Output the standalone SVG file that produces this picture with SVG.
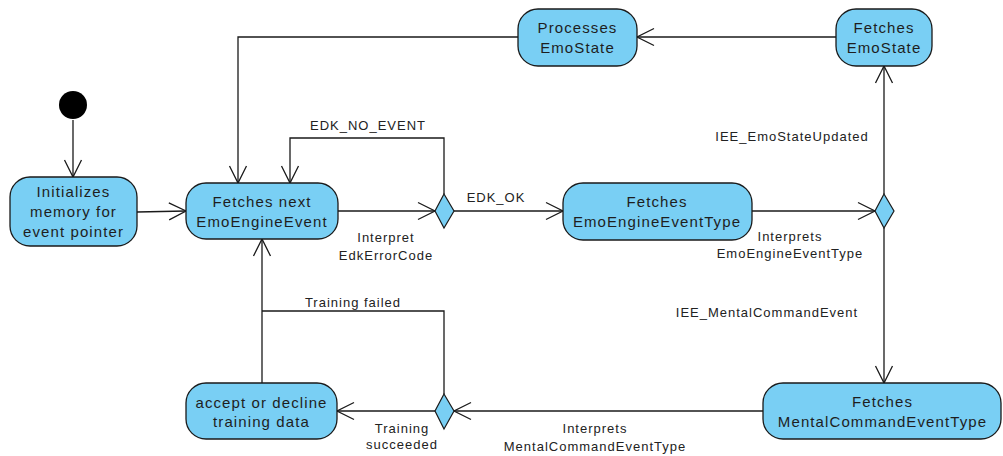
<svg xmlns="http://www.w3.org/2000/svg" width="1003" height="456" viewBox="0 0 1003 456">
<style>
.node rect{fill:#79cff4;stroke:#1a1a1a;stroke-width:1.3}
.dia{fill:#79cff4;stroke:#1a1a1a;stroke-width:1.2}
.nt{font-family:"Liberation Sans",Arial,sans-serif;font-size:15px;letter-spacing:1.1px;fill:#1e1e1e;text-anchor:middle}
.lt{font-family:"Liberation Sans",Arial,sans-serif;font-size:13px;letter-spacing:1px;fill:#222;text-anchor:middle}
.edge{fill:none;stroke:#1a1a1a;stroke-width:1.3}
</style>
<defs>
<marker id="arr" markerUnits="userSpaceOnUse" markerWidth="22" markerHeight="22" viewBox="-20 -11 22 22" refX="0" refY="0" orient="auto" overflow="visible">
<path d="M-17,-8.5 L0,0 L-17,8.5" fill="none" stroke="#1a1a1a" stroke-width="1.3"/>
</marker>
</defs>
<rect width="1003" height="456" fill="#fff"/>
<g id="connectors">
<path class="edge" d="M73,120 L73,177" marker-end="url(#arr)"/>
<path class="edge" d="M137,212 L186,211" marker-end="url(#arr)"/>
<path class="edge" d="M338,211 L435,211" marker-end="url(#arr)"/>
<path class="edge" d="M444,194 L444,138 L290,138 L290,183" marker-end="url(#arr)"/>
<path class="edge" d="M454,211 L563,211" marker-end="url(#arr)"/>
<path class="edge" d="M752,211 L875,211" marker-end="url(#arr)"/>
<path class="edge" d="M884,194 L884,66" marker-end="url(#arr)"/>
<path class="edge" d="M836,37 L637,37" marker-end="url(#arr)"/>
<path class="edge" d="M518,37 L238,37 L238,183" marker-end="url(#arr)"/>
<path class="edge" d="M884,228 L884,383" marker-end="url(#arr)"/>
<path class="edge" d="M763,411 L454,411" marker-end="url(#arr)"/>
<path class="edge" d="M435,411 L337,411" marker-end="url(#arr)"/>
<path class="edge" d="M444,394 L444,311 L262,311"/>
<path class="edge" d="M262,383 L262,239" marker-end="url(#arr)"/>
<text class="lt" x="368" y="130">EDK_NO_EVENT</text>
<text class="lt" x="496" y="202">EDK_OK</text>
<text class="lt" x="386" y="242">Interpret</text>
<text class="lt" x="386" y="260">EdkErrorCode</text>
<text class="lt" x="790" y="241">Interprets</text>
<text class="lt" x="790" y="258">EmoEngineEventType</text>
<text class="lt" x="792" y="141">IEE_EmoStateUpdated</text>
<text class="lt" x="767" y="317">IEE_MentalCommandEvent</text>
<text class="lt" x="595" y="433">Interprets</text>
<text class="lt" x="595" y="451">MentalCommandEventType</text>
<text class="lt" x="402" y="433">Training</text>
<text class="lt" x="402" y="449">succeeded</text>
<text class="lt" x="353" y="307">Training failed</text>
</g>
<g id="start"><circle cx="73" cy="105" r="14" fill="#000"/></g>
<g id="init" class="node">
<rect x="10" y="177" width="127" height="69" rx="20"/>
<text class="nt" x="73.5" y="197">Initializes</text>
<text class="nt" x="73.5" y="217">memory for</text>
<text class="nt" x="73.5" y="237">event pointer</text>
</g>
<g id="fetchNext" class="node">
<rect x="186" y="183" width="152" height="56" rx="20"/>
<text class="nt" x="262" y="207">Fetches next</text>
<text class="nt" x="262" y="227">EmoEngineEvent</text>
</g>
<g id="decision1"><polygon class="dia" points="444,194 454,211 444,228 435,211"/></g>
<g id="fetchType" class="node">
<rect x="563" y="183" width="189" height="57" rx="20"/>
<text class="nt" x="657" y="207">Fetches</text>
<text class="nt" x="657" y="227">EmoEngineEventType</text>
</g>
<g id="decision2"><polygon class="dia" points="884,194 894,211 884,228 875,211"/></g>
<g id="fetchState" class="node">
<rect x="836" y="9" width="96" height="57" rx="20"/>
<text class="nt" x="884" y="33">Fetches</text>
<text class="nt" x="884" y="53">EmoState</text>
</g>
<g id="processState" class="node">
<rect x="518" y="9" width="119" height="57" rx="20"/>
<text class="nt" x="577.5" y="33">Processes</text>
<text class="nt" x="577.5" y="53">EmoState</text>
</g>
<g id="fetchMental" class="node">
<rect x="763" y="383" width="238" height="56" rx="20"/>
<text class="nt" x="882.5" y="407">Fetches</text>
<text class="nt" x="882.5" y="427">MentalCommandEventType</text>
</g>
<g id="decision3"><polygon class="dia" points="444,394 454,411 444,429 435,411"/></g>
<g id="accept" class="node">
<rect x="186" y="383" width="151" height="56" rx="20"/>
<text class="nt" x="261.5" y="408">accept or decline</text>
<text class="nt" x="261.5" y="427">training data</text>
</g>
</svg>
